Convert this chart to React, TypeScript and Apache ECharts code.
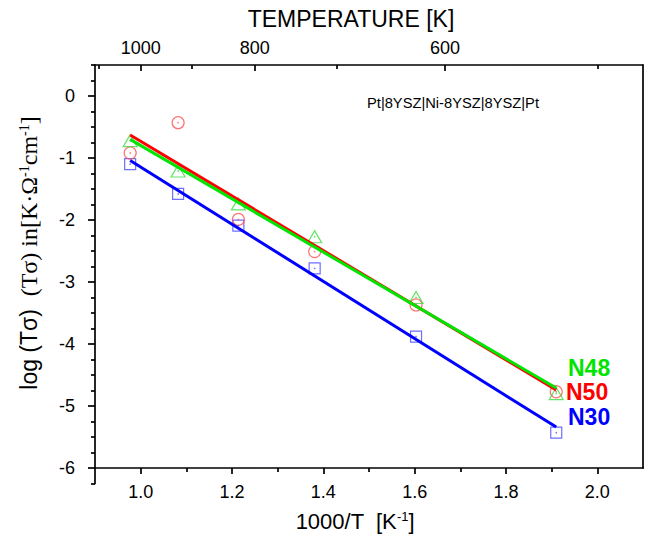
import React, { useEffect, useRef } from 'react';
import * as echarts from 'echarts';

// 1000/T values of the measurement temperatures
const invT = [0.977, 1.082, 1.214, 1.381, 1.603, 1.910];
// log(T·sigma) measured points
const n50 = [-0.92, -0.43, -1.99, -2.51, -3.37, -4.77];
const n48 = [-0.72, -1.21, -1.74, -2.27, -3.25, -4.80];
const n30 = [-1.10, -1.58, -2.09, -2.78, -3.88, -5.43];
// linear fits (end points)
const fitX = [0.977, 1.910];
const fitN50 = [-0.63, -4.74];
const fitN48 = [-0.70, -4.71];
const fitN30 = [-1.04, -5.34];
// ticks
const xMajor = [1.0, 1.2, 1.4, 1.6, 1.8, 2.0];
const xMinor = [1.1, 1.3, 1.5, 1.7, 1.9];
const yMajor = [0, -1, -2, -3, -4, -5, -6];
const yMinor = [0.5, 0.25, -0.25, -0.5, -0.75, -1.25, -1.5, -1.75, -2.25, -2.5, -2.75, -3.25, -3.5, -3.75, -4.25, -4.5, -4.75, -5.25, -5.5, -5.75, -6.25];
const tempMajor = [1000, 800, 600];
const tempMinor = [1100, 900, 700, 500];

const SANS = '"Liberation Sans", Arial, sans-serif';
const SERIF = '"Liberation Serif", "Times New Roman", serif';
const AX = { color: '#000', width: 1.7 };

const pts = (ys: number[]) => invT.map((x, i) => [x, ys[i]]);
const fit = (ys: number[]) => fitX.map((x, i) => [x, ys[i]]);

export default function App() {
  const ref = useRef<HTMLDivElement>(null);
  useEffect(() => {
    if (!ref.current) return;
    const chart = echarts.init(ref.current, null, { renderer: 'svg' });
    const xBase = { type: 'value', min: 0.9, max: 2.1, splitLine: { show: false } };
    const scatter = (name: string, ys: number[], symbol: string, size: any, color: string) => ({
      name, type: 'scatter', xAxisIndex: 0, yAxisIndex: 0, data: pts(ys), symbol, symbolSize: size,
      itemStyle: { color: 'rgba(0,0,0,0)', borderColor: color, borderWidth: 1.2 }, z: 2,
    });
    const dots = (ys: number[], color: string) => ({
      type: 'scatter', xAxisIndex: 0, yAxisIndex: 0, data: pts(ys), symbol: 'circle', symbolSize: 1.6,
      itemStyle: { color }, z: 2,
    });
    const line = (ys: number[], color: string, z: number) => ({
      type: 'line', xAxisIndex: 0, yAxisIndex: 0, data: fit(ys), showSymbol: false,
      lineStyle: { color, width: 3 }, z,
    });
    chart.setOption({
      animation: false,
      backgroundColor: '#fff',
      grid: [
        { left: 95, top: 65, width: 548, height: 403 },
        { left: 95, top: 65, width: 548, height: 418.5 },
      ],
      xAxis: [
        {
          ...xBase, gridIndex: 0, position: 'bottom',
          axisLine: { show: true, onZero: false, lineStyle: AX },
          axisTick: { show: true, customValues: xMajor, inside: false, length: 6, lineStyle: AX },
          axisLabel: { show: true, customValues: xMajor, formatter: (v: number) => v.toFixed(1), fontSize: 18, color: '#000', fontFamily: SANS, margin: 15 },
        },
        {
          ...xBase, gridIndex: 0, position: 'bottom',
          axisLine: { show: false, onZero: false },
          axisTick: { show: true, customValues: xMinor, inside: false, length: 4, lineStyle: AX },
          axisLabel: { show: false },
        },
        {
          ...xBase, gridIndex: 0, position: 'top',
          axisLine: { show: true, onZero: false, lineStyle: AX },
          axisTick: { show: true, customValues: tempMajor.map((t) => 1000 / t), inside: true, length: 6, lineStyle: AX },
          axisLabel: { show: true, customValues: tempMajor.map((t) => 1000 / t), formatter: (v: number) => String(Math.round(1000 / v)), fontSize: 18, color: '#000', fontFamily: SANS, margin: 8 },
        },
        {
          ...xBase, gridIndex: 0, position: 'top',
          axisLine: { show: false, onZero: false },
          axisTick: { show: true, customValues: tempMinor.map((t) => 1000 / t), inside: true, length: 4, lineStyle: AX },
          axisLabel: { show: false },
        },
        { ...xBase, gridIndex: 1, show: false },
      ],
      yAxis: [
        {
          type: 'value', gridIndex: 0, position: 'right', min: -6, max: 0.5,
          axisLine: { show: true, onZero: false, lineStyle: AX },
          axisTick: { show: false }, axisLabel: { show: false }, splitLine: { show: false },
        },
        {
          type: 'value', gridIndex: 1, position: 'left', min: -6.25, max: 0.5,
          axisLine: { show: true, onZero: false, lineStyle: AX },
          axisTick: { show: true, customValues: yMajor, inside: false, length: 7, lineStyle: AX },
          axisLabel: { show: true, customValues: yMajor, formatter: (v: number) => String(v), fontSize: 18, color: '#000', fontFamily: SANS, margin: 20 },
          splitLine: { show: false },
        },
        {
          type: 'value', gridIndex: 1, position: 'left', min: -6.25, max: 0.5,
          axisLine: { show: false, onZero: false },
          axisTick: { show: true, customValues: yMinor, inside: false, length: 4, lineStyle: AX },
          axisLabel: { show: false }, splitLine: { show: false },
        },
      ],
      series: [
        scatter('N30', n30, 'rect', 11, '#4a4aff'),
        scatter('N50', n50, 'circle', 12, '#ff5050'),
        scatter('N48', n48, 'triangle', [14, 12], '#3ddc3d'),
        dots(n30, '#4a4aff'),
        dots(n50, '#ff5050'),
        dots(n48, '#3ddc3d'),
        line(fitN30, '#0000ff', 3),
        line(fitN50, '#ff0000', 4),
        line(fitN48, '#00e400', 5),
      ],
      graphic: [
        { type: 'text', x: 351, y: 19, style: { text: 'TEMPERATURE [K]', fontSize: 23, fontFamily: SANS, fill: '#000', align: 'center', verticalAlign: 'middle' } },
        {
          type: 'text', x: 355, y: 521,
          style: {
            text: '{t|1000/T  [K}{s|-1}{t|]}', align: 'center', verticalAlign: 'middle',
            rich: { t: { fontSize: 22, fontFamily: SANS, color: '#000' }, s: { fontSize: 13, fontFamily: SANS, verticalAlign: 'top', color: '#000' } },
          },
        },
        {
          type: 'text', x: 29, y: 253, rotation: Math.PI / 2,
          style: {
            text: '{a|log (Tσ)}  {b|(Tσ) in[K·Ω}{s|-1}{b|cm}{s|-1}{b|]}', align: 'center', verticalAlign: 'middle',
            fontSize: 23, fontFamily: SANS,
            rich: {
              a: { fontSize: 23, fontFamily: SANS, color: '#000' },
              b: { fontSize: 24, fontFamily: SERIF, color: '#000' },
              s: { fontSize: 14, fontFamily: SERIF, verticalAlign: 'top', color: '#000' },
            },
          },
        },
        { type: 'text', x: 367, y: 103, style: { text: 'Pt|8YSZ|Ni-8YSZ|8YSZ|Pt', fontSize: 14.7, fontFamily: SANS, fill: '#000', align: 'left', verticalAlign: 'middle' } },
        { type: 'text', x: 568, y: 368, style: { text: 'N48', fontSize: 23, fontWeight: 'bold', fontFamily: SANS, fill: '#00e400', align: 'left', verticalAlign: 'middle' } },
        { type: 'text', x: 566, y: 392, style: { text: 'N50', fontSize: 23, fontWeight: 'bold', fontFamily: SANS, fill: '#ff0000', align: 'left', verticalAlign: 'middle' } },
        { type: 'text', x: 568, y: 417, style: { text: 'N30', fontSize: 23, fontWeight: 'bold', fontFamily: SANS, fill: '#0000ff', align: 'left', verticalAlign: 'middle' } },
      ],
    });
    return () => chart.dispose();
  }, []);
  return <div ref={ref} style={{ position: 'absolute', left: 0, top: 0, width: 646, height: 543 }} />;
}
